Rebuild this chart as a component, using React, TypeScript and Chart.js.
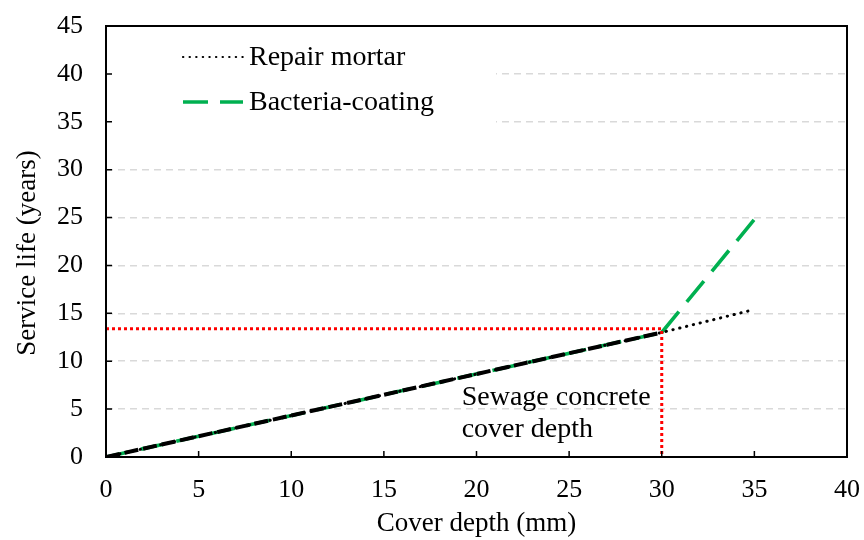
import { useEffect, useRef } from 'react';
import { Chart, registerables } from 'chart.js';

Chart.register(...registerables);

// ---- data ----
const coverDepth = [0, 30, 35];
const repairMortar = [0, 13, 15.4];
const bacteriaCoating = [0, 13, 24.8];
const sewageDepth = [0, 30];
const sewageLife = [0, 13];
const markerDepth = 30;
const markerLife = 13.4;
const xTickValues = [0, 5, 10, 15, 20, 25, 30, 35, 40];
const yTickValues = [0, 5, 10, 15, 20, 25, 30, 35, 40, 45];
const legendLabels = ['Repair mortar', 'Bacteria-coating'];
const annotationLines = ['Sewage concrete', 'cover depth'];
const xTitle = 'Cover depth (mm)';
const yTitle = 'Service life (years)';

const FONT = "'Liberation Serif', 'Times New Roman', serif";
const GREEN = '#00b050';

const toPts = (xs: number[], ys: number[]) => xs.map((x, i) => ({ x, y: ys[i] }));

const framePlugin = {
  id: 'frame',
  beforeDatasetsDraw(chart: any) {
    const { ctx, chartArea } = chart;
    ctx.save();
    ctx.fillStyle = '#ffffff';
    ctx.fillRect(chartArea.left + 1, chartArea.top + 1, 495 - chartArea.left, 132 - chartArea.top);
    ctx.restore();
  },
  afterDatasetsDraw(chart: any) {
    const { ctx, chartArea, scales } = chart;
    const { left, right, top, bottom } = chartArea;
    ctx.save();
    ctx.strokeStyle = '#000';
    ctx.lineWidth = 2;
    ctx.setLineDash([]);
    ctx.strokeRect(left, top, right - left, bottom - top);
    ctx.lineWidth = 1.5;
    ctx.beginPath();
    xTickValues.forEach((v) => {
      const px = scales.x.getPixelForValue(v);
      ctx.moveTo(px, bottom);
      ctx.lineTo(px, bottom - 6);
    });
    yTickValues.forEach((v) => {
      const py = scales.y.getPixelForValue(v);
      ctx.moveTo(left, py);
      ctx.lineTo(left + 6, py);
    });
    ctx.stroke();

    // legend
    const ds = chart.data.datasets;
    const rows = [57, 102];
    [0, 1].forEach((i) => {
      const d = ds[i];
      const y = rows[i];
      ctx.beginPath();
      ctx.strokeStyle = d.borderColor;
      if (i === 0) {
        ctx.lineWidth = 2.2;
        ctx.lineCap = 'round';
        ctx.setLineDash([0.3, 6.3]);
      } else {
        ctx.lineWidth = d.borderWidth;
        ctx.lineCap = 'butt';
        ctx.setLineDash([25, 12]);
      }
      ctx.moveTo(183, y);
      ctx.lineTo(243, y);
      ctx.stroke();
      ctx.setLineDash([]);
      ctx.lineCap = 'butt';
      ctx.fillStyle = '#000';
      ctx.font = `28px ${FONT}`;
      ctx.textBaseline = 'middle';
      ctx.textAlign = 'left';
      ctx.fillText(legendLabels[i], 249, y + 1);
    });

    // annotation
    ctx.font = `28px ${FONT}`;
    ctx.textBaseline = 'alphabetic';
    ctx.fillStyle = '#000';
    const ax = scales.x.getPixelForValue(19.2);
    ctx.fillText(annotationLines[0], ax, 405);
    ctx.fillText(annotationLines[1], ax, 437);

    // y axis title
    ctx.translate(28, 253);
    ctx.rotate(-Math.PI / 2);
    ctx.font = `27px ${FONT}`;
    ctx.textAlign = 'center';
    ctx.textBaseline = 'middle';
    ctx.fillText(yTitle, 0, 0);
    ctx.restore();
  },
};

export default function App() {
  const ref = useRef<HTMLCanvasElement | null>(null);
  useEffect(() => {
    document.body.style.margin = '0';
    const canvas = ref.current;
    if (!canvas) return;
    const chart = new Chart(canvas, {
      type: 'line',
      data: {
        datasets: [
          {
            label: legendLabels[0],
            data: toPts(coverDepth, repairMortar),
            borderColor: '#000000',
            borderWidth: 3,
            borderDash: [0.3, 6.7],
            borderCapStyle: 'round',
            pointRadius: 0,
            tension: 0,
            order: 3,
          },
          {
            label: legendLabels[1],
            data: toPts(coverDepth, bacteriaCoating),
            borderColor: GREEN,
            borderWidth: 3.6,
            borderDash: [24, 12],
            segment: {
              borderDash: (c: any) => (c.p0DataIndex === 0 ? [24, 12] : [27, 12.5]),
            },
            pointRadius: 0,
            tension: 0,
            order: 4,
          },
          {
            label: 'Sewage concrete',
            data: toPts(sewageDepth, sewageLife),
            borderColor: '#000000',
            borderWidth: 4,
            borderDash: [14, 5],
            pointRadius: 0,
            tension: 0,
            order: 2,
          },
          {
            label: 'Cover depth marker',
            data: [
              { x: 0, y: markerLife },
              { x: markerDepth, y: markerLife },
              { x: markerDepth, y: 0 },
            ],
            borderColor: '#ff0000',
            borderWidth: 3,
            borderDash: [3, 3],
            pointRadius: 0,
            tension: 0,
            order: 1,
          },
        ],
      },
      options: {
        responsive: false,
        animation: false,
        layout: { padding: { top: 26, right: 17, left: 0, bottom: 0 } },
        plugins: { legend: { display: false }, tooltip: { enabled: false } },
        scales: {
          x: {
            type: 'linear',
            min: 0,
            max: 40,
            afterFit: (s: any) => {
              s.height = 83;
              s.paddingLeft = 0;
              s.paddingRight = 0;
            },
            afterBuildTicks: (s: any) => { s.ticks = xTickValues.map((v) => ({ value: v })); },
            ticks: { font: { family: FONT, size: 26 }, color: '#000', padding: 18, maxRotation: 0 },
            grid: { display: false, drawTicks: false },
            border: { display: false },
            title: { display: true, text: xTitle, font: { family: FONT, size: 27 }, color: '#000', padding: { top: 0, bottom: 0 } },
          },
          y: {
            type: 'linear',
            min: 0,
            max: 45,
            afterFit: (s: any) => {
              s.width = 106;
              s.paddingTop = 0;
              s.paddingBottom = 0;
            },
            afterBuildTicks: (s: any) => { s.ticks = yTickValues.map((v) => ({ value: v })); },
            ticks: { font: { family: FONT, size: 26 }, color: '#000', padding: 23 },
            grid: {
              drawTicks: false,
              color: (c: any) => (c.tick && (c.tick.value === 0 || c.tick.value === 45) ? 'rgba(0,0,0,0)' : '#d9d9d9'),
              lineWidth: 1.5,
            },
            border: { display: false, dash: [7, 5] },
            title: { display: false },
          },
        },
      },
      plugins: [framePlugin],
    });
    return () => chart.destroy();
  }, []);
  return (
    <div style={{ width: 864, height: 540 }}>
      <canvas ref={ref} width={864} height={540} />
    </div>
  );
}
